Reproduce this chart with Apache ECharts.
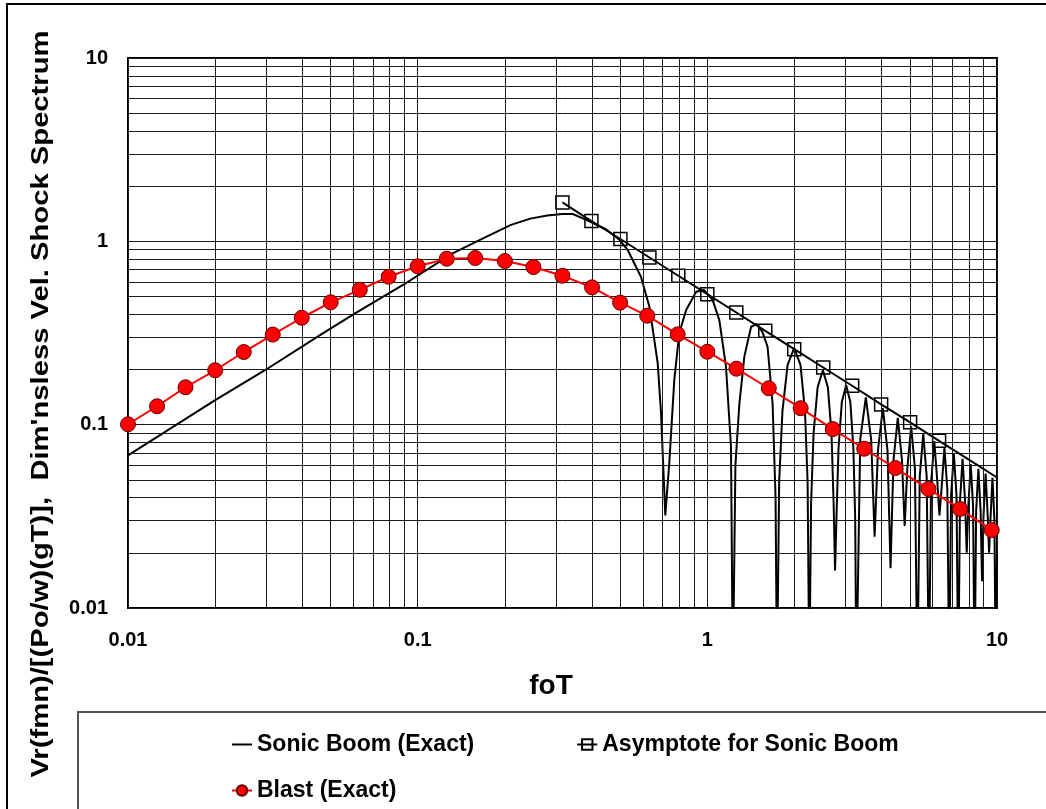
<!DOCTYPE html>
<html><head><meta charset="utf-8">
<script src="https://cdn.jsdelivr.net/npm/echarts@6/dist/echarts.min.js"></script>
<style>html,body{margin:0;padding:0;background:#fff}#c{width:1046px;height:809px}</style>
</head><body><div id="c"></div>
<script>
// ---- data ----
const xTickLabels = ['0.01', '0.1', '1', '10'];
const yTickLabels = ['0.01', '0.1', '1', '10'];
const xMinorGrid = [0.02,0.03,0.04,0.05,0.06,0.07,0.08,0.09,0.2,0.3,0.4,0.5,0.6,0.7,0.8,0.9,2,3,4,5,6,7,8,9];
const yMinorGrid = [0.02,0.03,0.04,0.05,0.06,0.07,0.08,0.09,0.2,0.3,0.4,0.5,0.6,0.7,0.8,0.9,2,3,4,5,6,7,8,9];

const sonicBoom = [
 [0.01,0.068],[0.02,0.136],[0.03,0.2],[0.046,0.308],[0.06,0.4],[0.089,0.578],[0.132,0.86],[0.173,1.06],
 [0.21,1.23],[0.245,1.33],[0.28,1.385],[0.315,1.41],[0.343,1.41],[0.382,1.31],[0.448,1.16],[0.497,1.02],[0.531,0.897],
 [0.59,0.641],[0.631,0.44],[0.674,0.217],[0.692,0.116],[0.716,0.032],[0.739,0.0617],[0.769,0.175],[0.8,0.316],
 [0.845,0.422],[0.915,0.531],[0.975,0.542],[1.043,0.479],[1.1,0.372],[1.16,0.207],[1.207,0.0758],[1.225,0.004],
 [1.25,0.06],[1.29,0.13],[1.342,0.235],[1.416,0.342],[1.48,0.354],[1.55,0.32],[1.614,0.266],[1.68,0.13],[1.72,0.04],[1.74,0.004],
 [1.77,0.049],[1.817,0.119],[1.893,0.212],[1.995,0.262],[2.097,0.212],[2.173,0.119],[2.219,0.049],[2.25,0.004],
 [2.281,0.037],[2.327,0.09],[2.403,0.16],[2.505,0.198],[2.607,0.16],[2.683,0.09],[2.729,0.037],[2.76,0.016],
 [2.791,0.031],[2.837,0.074],[2.913,0.133],[3.015,0.164],[3.117,0.133],[3.193,0.074],[3.239,0.031],[3.27,0.004],
 [3.372,0.083],[3.525,0.141],[3.678,0.083],[3.78,0.0245],
 [3.882,0.0723],[4.035,0.123],[4.188,0.0723],[4.29,0.0165],
 [4.392,0.0641],[4.545,0.109],[4.698,0.0641],[4.8,0.028],
 [4.902,0.0576],[5.055,0.098],[5.208,0.0576],[5.31,0.004],
 [5.412,0.0523],[5.565,0.089],[5.718,0.0523],[5.82,0.004],
 [5.922,0.0479],[6.075,0.0815],[6.228,0.0479],[6.33,0.032],
 [6.432,0.0442],[6.585,0.0752],[6.738,0.0442],[6.84,0.004],
 [6.942,0.041],[7.095,0.0698],[7.248,0.041],[7.35,0.004],
 [7.452,0.0383],[7.605,0.0651],[7.758,0.0383],[7.86,0.02],
 [7.962,0.0359],[8.115,0.061],[8.268,0.0359],[8.37,0.004],
 [8.472,0.0338],[8.625,0.0574],[8.778,0.0338],[8.88,0.014],
 [8.982,0.0319],[9.135,0.0542],[9.288,0.0319],[9.39,0.02],
 [9.492,0.0302],[9.645,0.0513],[9.798,0.0302],[9.9,0.004],[10,0.02]
];

const asymX = [0.316,0.398,0.501,0.631,0.794,1.0,1.259,1.585,1.995,2.512,3.162,3.981,5.012,6.31,7.943,10];
const asymY = [1.63,1.29,1.03,0.816,0.649,0.515,0.409,0.325,0.258,0.205,0.163,0.129,0.103,0.0816,0.0649,0.0515];
const asymMarked = 14; // squares drawn on the first 14 points

const blastX = [0.01,0.0126,0.0158,0.02,0.0251,0.0316,0.0398,0.0501,0.0631,0.0794,0.1,0.126,0.158,0.2,0.251,
 0.316,0.4,0.5,0.62,0.79,1.0,1.26,1.63,2.1,2.71,3.48,4.46,5.8,7.45,9.59];
const blastY = [0.1005,0.126,0.16,0.198,0.249,0.31,0.383,0.465,0.544,0.641,0.731,0.804,0.811,0.781,0.724,
 0.649,0.561,0.463,0.393,0.311,0.25,0.202,0.158,0.123,0.0946,0.0739,0.058,0.0446,0.0347,0.0266];

// ---- chart ----
const FONT = '"Liberation Sans", Arial, Helvetica, sans-serif';
const gridLineStyle = {color: '#1a1a1a', width: 1, type: 'solid'};
const labelFor = (arr) => (v) => { const i = Math.round(Math.log10(v)) + 2; return arr[i] !== undefined ? arr[i] : ''; };
const legendText = {fontSize: 23, fontWeight: 'bold', color: '#000', fontFamily: FONT};

const chart = echarts.init(document.getElementById('c'), null, {renderer: 'canvas'});
const option = {
  animation: false,
  backgroundColor: '#fff',
  grid: {left: 128, right: 49, top: 58, bottom: 201, show: true, borderColor: '#000', borderWidth: 2, backgroundColor: 'transparent'},
  xAxis: {
    type: 'log', logBase: 10, min: 0.01, max: 10,
    axisLine: {show: false}, axisTick: {show: false},
    splitLine: {show: true, lineStyle: gridLineStyle},
    axisLabel: {margin: 22, fontSize: 20, fontWeight: 'bold', color: '#000', fontFamily: FONT, formatter: labelFor(xTickLabels)}
  },
  yAxis: {
    type: 'log', logBase: 10, min: 0.01, max: 10,
    axisLine: {show: false}, axisTick: {show: false},
    splitLine: {show: true, lineStyle: gridLineStyle},
    axisLabel: {margin: 20, fontSize: 20, fontWeight: 'bold', color: '#000', fontFamily: FONT, formatter: labelFor(yTickLabels)}
  },
  legend: [
    {data: [
       {name: 'Sonic Boom (Exact)', itemStyle: {color: 'rgba(0,0,0,0)', borderColor: 'rgba(0,0,0,0)', borderWidth: 0}},
       'Asymptote for Sonic Boom'],
     left: 226, top: 728, itemGap: 102, itemWidth: 20, itemHeight: 13,
     selectedMode: false, textStyle: legendText},
    {data: ['Blast (Exact)'], left: 226, top: 774, itemWidth: 20, itemHeight: 13,
     selectedMode: false, textStyle: legendText}
  ],
  series: [
    {
      name: 'grid', type: 'line', data: [], silent: true, z: 1,
      markLine: {
        silent: true, symbol: ['none', 'none'], label: {show: false}, lineStyle: gridLineStyle, animation: false,
        emphasis: {disabled: true},
        data: xMinorGrid.map(v => ({xAxis: v})).concat(yMinorGrid.map(v => ({yAxis: v})))
      }
    },
    {
      name: 'Sonic Boom (Exact)', type: 'line', z: 3, symbol: 'none', data: sonicBoom,
      lineStyle: {color: '#000', width: 2}, itemStyle: {color: '#000'}
    },
    {
      name: 'Asymptote for Sonic Boom', type: 'line', z: 4, symbol: 'rect', symbolSize: 13,
      data: asymX.map((x, i) => i < asymMarked ? [x, asymY[i]] : {value: [x, asymY[i]], symbol: 'none'}),
      lineStyle: {color: '#000', width: 2},
      itemStyle: {color: 'rgba(255,255,255,0)', borderColor: '#000', borderWidth: 1.5}
    },
    {
      name: 'Blast (Exact)', type: 'line', z: 5, symbol: 'circle', symbolSize: 15,
      data: blastX.map((x, i) => [x, blastY[i]]),
      lineStyle: {color: '#ff0000', width: 2},
      itemStyle: {color: '#ff0000', borderColor: '#660000', borderWidth: 1}
    }
  ],
  graphic: [
    {type: 'rect', silent: true, z: -10, shape: {x: 7, y: 4, width: 1200, height: 1000}, style: {fill: 'none', stroke: '#000', lineWidth: 2}},
    {type: 'rect', silent: true, z: -10, shape: {x: 78, y: 712, width: 1200, height: 300}, style: {fill: 'none', stroke: '#555', lineWidth: 2}},
    {type: 'text', silent: true, x: 42, y: 404, rotation: Math.PI / 2, scaleX: 1.27,
     style: {text: "Vr(fmn)/[(Po/w)(gT)],  Dim'nsless Vel. Shock Spectrum", fontSize: 23, fontWeight: 'bold', fontFamily: FONT,
             fill: '#000', align: 'center', verticalAlign: 'middle', textAlign: 'center', textVerticalAlign: 'middle'}},
    {type: 'text', silent: true, x: 551, y: 686,
     style: {text: 'foT', fontSize: 28, fontWeight: 'bold', fontFamily: FONT, fill: '#000',
             align: 'center', verticalAlign: 'middle', textAlign: 'center', textVerticalAlign: 'middle'}}
  ]
};
chart.setOption(option);
</script>
</body></html>
